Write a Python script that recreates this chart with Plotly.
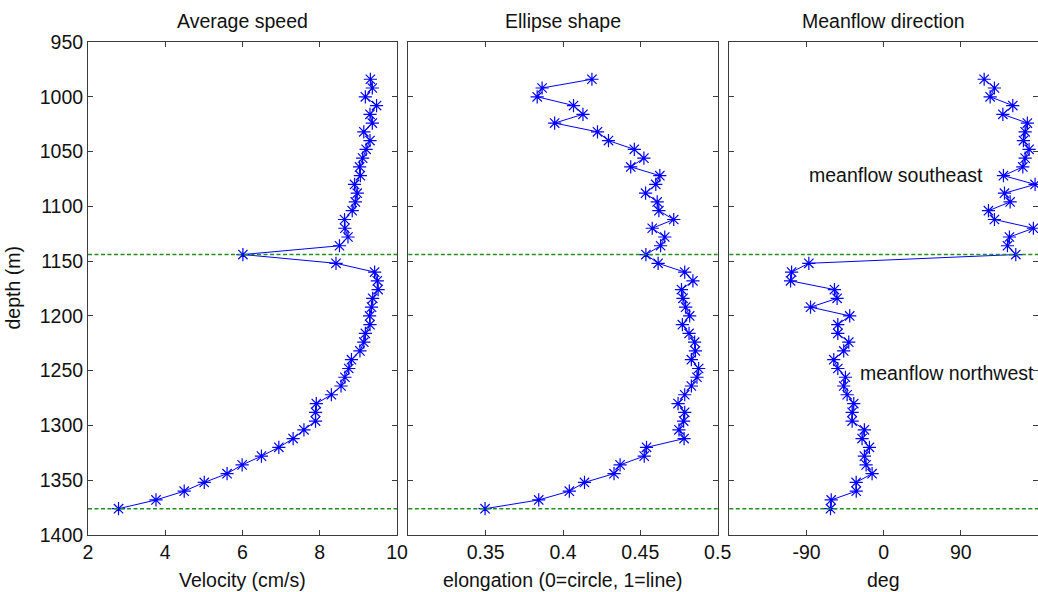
import plotly.graph_objects as go

depth = [984, 992, 1000, 1008, 1016, 1024, 1032, 1040, 1048, 1056,
         1064, 1072, 1080, 1088, 1096, 1104, 1112, 1120, 1128, 1136,
         1144, 1152, 1160, 1168, 1176, 1184, 1192, 1200, 1208, 1216,
         1224, 1232, 1240, 1248, 1256, 1264, 1272, 1280, 1288, 1296,
         1304, 1312, 1320, 1328, 1336, 1344, 1352, 1360, 1368, 1376]

speed = [9.31, 9.36, 9.18, 9.47, 9.30, 9.36, 9.14, 9.30, 9.20, 9.11,
         9.03, 9.05, 8.90, 8.97, 8.92, 8.84, 8.64, 8.65, 8.73, 8.51,
         6.01, 8.42, 9.42, 9.49, 9.51, 9.37, 9.34, 9.29, 9.30, 9.18,
         9.14, 9.04, 8.82, 8.75, 8.65, 8.55, 8.30, 7.91, 7.89, 7.89,
         7.59, 7.31, 6.94, 6.49, 5.99, 5.60, 5.01, 4.49, 3.76, 2.79]

elongation = [0.4187, 0.3865, 0.3833, 0.4068, 0.4129, 0.3946, 0.4223, 0.4294, 0.4461, 0.4523,
              0.4438, 0.4626, 0.4600, 0.4534, 0.4609, 0.4620, 0.4716, 0.4577, 0.4658, 0.4631,
              0.4536, 0.4615, 0.4787, 0.4840, 0.4766, 0.4776, 0.4793, 0.4819, 0.4772, 0.4815,
              0.4851, 0.4856, 0.4830, 0.4877, 0.4866, 0.4830, 0.4787, 0.4744, 0.4787, 0.4780,
              0.4750, 0.4783, 0.4540, 0.4525, 0.4369, 0.4330, 0.4139, 0.4041, 0.3843, 0.3496]

direction = [117.2, 129.2, 124.2, 150.6, 139.0, 167.6, 165.0, 163.0, 169.6, 165.0,
             162.3, 139.7, 176.6, 140.9, 147.5, 122.2, 129.2, 174.6, 146.7, 144.4,
             154.1, -87.3, -107.4, -108.6, -57.4, -54.3, -85.3, -39.6, -53.5, -53.5,
             -40.7, -46.6, -58.2, -53.5, -44.6, -46.6, -42.6, -34.9, -36.8, -36.8,
             -22.5, -25.2, -16.6, -22.5, -20.5, -13.5, -32.1, -32.0, -61.2, -62.0]

boundary_depths = [1144, 1376]

titles = ["Average speed", "Ellipse shape", "Meanflow direction"]
xlabels = ["Velocity (cm/s)", "elongation (0=circle, 1=line)", "deg"]
y_ticks = [950, 1000, 1050, 1100, 1150, 1200, 1250, 1300, 1350, 1400]
x_ticks = [[2, 4, 6, 8, 10], [0.35, 0.4, 0.45, 0.5], [-90, 0, 90]]
x_ticktext = [["2", "4", "6", "8", "10"], ["0.35", "0.4", "0.45", "0.5"], ["-90", "0", "90"]]
x_ranges = [[2, 10], [0.3, 0.5], [-180, 180]]
notes = [("meanflow southeast", -90, 1071), ("meanflow northwest", -29.5, 1252)]

FONT = "Liberation Sans, Arial, sans-serif"
FS = 19.5
AXC = "#3c3c3c"
domains = [[0.0, 0.3253], [0.3372, 0.6628], [0.6751, 1.0]]

fig = go.Figure()
series = [speed, elongation, direction]
for i, vals in enumerate(series):
    xa = "x" if i == 0 else f"x{i+1}"
    ya = "y" if i == 0 else f"y{i+1}"
    fig.add_trace(go.Scatter(
        x=vals, y=depth, xaxis=xa, yaxis=ya, mode="lines+markers",
        line=dict(color="#0000ff", width=1),
        marker=dict(symbol="asterisk-open", size=11, color="#0000ff",
                    line=dict(color="#2020ff", width=1.2)),
        showlegend=False, cliponaxis=True))
    for d in boundary_depths:
        fig.add_shape(type="line", xref=f"{xa} domain", yref=ya,
                      x0=0, x1=1, y0=d, y1=d,
                      line=dict(color="#1f8f1f", width=1.6, dash="4px,2.5px"))

layout = dict(width=1038, height=592, plot_bgcolor="white", paper_bgcolor="white",
              margin=dict(l=88, r=0, t=42, b=57, autoexpand=False),
              font=dict(family=FONT, size=FS, color="#111111"))
for i in range(3):
    xk = "xaxis" if i == 0 else f"xaxis{i+1}"
    yk = "yaxis" if i == 0 else f"yaxis{i+1}"
    layout[xk] = dict(domain=domains[i], range=x_ranges[i], tickvals=x_ticks[i],
                      ticktext=x_ticktext[i], automargin=False,
                      ticks="inside", ticklen=5, tickcolor=AXC, showline=True,
                      linecolor=AXC, linewidth=1, mirror="ticks", showgrid=False,
                      zeroline=False, anchor="y" if i == 0 else f"y{i+1}",
                      tickfont=dict(size=FS, family=FONT, color="#111111"))
    layout[yk] = dict(range=[1400, 950], tickvals=y_ticks, ticks="inside", ticklen=5,
                      tickcolor=AXC, showline=True, linecolor=AXC, linewidth=1,
                      mirror="ticks", showgrid=False, zeroline=False, automargin=False,
                      anchor="x" if i == 0 else f"x{i+1}",
                      showticklabels=(i == 0),
                      tickfont=dict(size=FS, family=FONT, color="#111111"))
fig.update_layout(**layout)

centers = [(d[0] + d[1]) / 2 for d in domains]
for i in range(3):
    fig.add_annotation(text=titles[i], x=centers[i], y=1.0432, xref="paper", yref="paper",
                       showarrow=False, xanchor="center", yanchor="middle",
                       font=dict(size=FS, family=FONT, color="#111111"))
    fig.add_annotation(text=xlabels[i], x=centers[i], y=-0.0913, xref="paper", yref="paper",
                       showarrow=False, xanchor="center", yanchor="middle",
                       font=dict(size=FS, family=FONT, color="#111111"))
fig.add_annotation(text="depth (m)", x=-76 / 950, y=0.5, xref="paper", yref="paper",
                   showarrow=False, textangle=-90, xanchor="center", yanchor="middle",
                   font=dict(size=FS, family=FONT, color="#111111"))
for txt, xv, yv in notes:
    fig.add_annotation(text=txt, x=xv, y=yv, xref="x3", yref="y3", showarrow=False,
                       xanchor="left", yanchor="middle",
                       font=dict(size=FS, family=FONT, color="#111111"))

fig.write_html("out.html", config={"displayModeBar": False},
               post_script="document.body.style.margin='0px';document.body.style.overflow='hidden';")
